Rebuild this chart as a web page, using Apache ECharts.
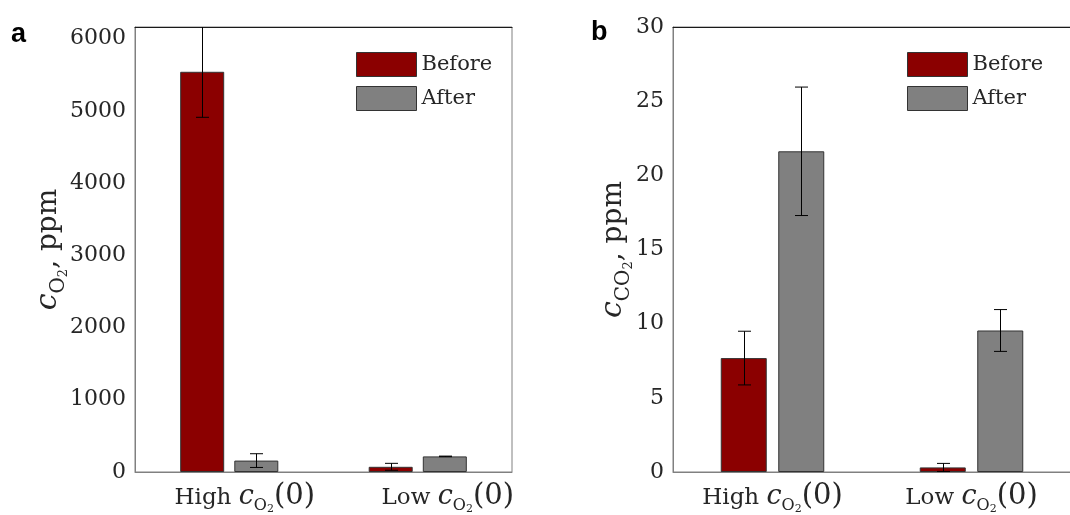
<!DOCTYPE html>
<html>
<head>
<meta charset="utf-8">
<script src="https://cdn.jsdelivr.net/npm/echarts@6/dist/echarts.min.js"></script>
<style>
  html, body { margin: 0; padding: 0; background: #ffffff; }
  #chart { width: 1070px; height: 515px; }
</style>
</head>
<body>
<div id="chart"></div>
<script>
// Categories and series names
const categories = ['High', 'Low'];
const seriesNames = ['Before', 'After'];

// Panel a: O2 concentration, ppm (mean and error half-width)
const o2Before = [5540, 72];
const o2BeforeErr = [630, 48];
const o2After = [158, 216];
const o2AfterErr = [95, 4];

// Panel b: CO2 concentration, ppm (mean and error half-width)
const co2Before = [7.68, 0.31];
const co2BeforeErr = [1.81, 0.27];
const co2After = [21.62, 9.54];
const co2AfterErr = [4.33, 1.41];

// Axis ranges
const o2AxisMax = 6160, o2AxisStep = 1000;
const co2AxisMax = 30, co2AxisStep = 5;

const COLORS = { Before: '#8b0000', After: '#808080' };
const EDGE = '#333333';
const TEXT = '#262626';
const SERIF = '"DejaVu Serif", serif';

// one rich-text piece: bottom-aligned, raised by its bottom padding
function piece(size, pad, italic) {
  return {
    fontFamily: SERIF, fontSize: size, fontStyle: italic ? 'italic' : 'normal',
    color: TEXT, lineHeight: size, padding: [0, 0, pad, 0], verticalAlign: 'bottom'
  };
}

// category labels: text, italic c, subscript O with its own subscript 2, then (0)
const xRich = {
  t: piece(23, 10, false),
  c: piece(27, 9.2, true),
  s: piece(16, 6.2, false),
  ss: piece(11, 5.1, false),
  p: piece(29, 8.9, false),
  g1: { width: 31, lineHeight: 20 },
  g2: { width: 60, lineHeight: 20 }
};

// axis titles: italic c with stacked subscripts, then ", ppm"
const yRich = {
  t: piece(28, 10, false),
  c: piece(30, 9.6, true),
  s: piece(20, 4.4, false),
  ss: piece(13, 2.7, false)
};

function catLabel(name, gap) {
  return (gap ? '{' + gap + '|}' : '') + '{t|' + name + ' }{c|c}{s|O}{ss|2}{p|(0)}';
}

function yAxisCfg(gridIndex, max, step, nameText, nameGap) {
  return {
    type: 'value', gridIndex: gridIndex, min: 0, max: max, interval: step,
    name: nameText, nameLocation: 'middle', nameRotate: 90, nameGap: nameGap,
    nameMoveOverlap: false,
    nameTextStyle: { rich: yRich },
    axisLine: { show: true, lineStyle: { color: '#808080', width: 1 } },
    axisTick: { show: false },
    splitLine: { show: false },
    axisLabel: {
      fontFamily: SERIF, fontSize: 22, color: TEXT, margin: 9,
      formatter: function (v) { return String(v); }
    }
  };
}

function xAxisCfg(gridIndex, gaps) {
  return {
    type: 'category', gridIndex: gridIndex, data: categories,
    axisLine: { show: true, lineStyle: { color: '#808080', width: 1 } },
    axisTick: { show: false },
    axisLabel: {
      margin: 19, interval: 0,
      formatter: function (v, i) { return catLabel(v, gaps[i]); },
      rich: xRich
    }
  };
}

function topEdge(gridIndex) {
  return {
    type: 'category', gridIndex: gridIndex, position: 'top', data: categories,
    axisLine: { show: true, lineStyle: { color: '#1a1a1a', width: 1 } },
    axisTick: { show: false }, axisLabel: { show: false }, splitLine: { show: false }
  };
}

function barSeries(name, values, axisIndex, barWidth, barGap) {
  return {
    type: 'bar', name: name, xAxisIndex: axisIndex * 2, yAxisIndex: axisIndex,
    data: values, barWidth: barWidth, barGap: barGap,
    itemStyle: { color: COLORS[name], borderColor: EDGE, borderWidth: 1 },
    emphasis: { disabled: true }, silent: true
  };
}

function errorSeries(name, values, errs, axisIndex, side, barWidth, barGapFrac) {
  return {
    type: 'custom', name: name + ' error', xAxisIndex: axisIndex * 2, yAxisIndex: axisIndex,
    clip: true, z: 5, silent: true,
    data: values.map(function (v, i) { return [i, v - errs[i], v + errs[i]]; }),
    encode: { x: 0, y: [1, 2] },
    renderItem: function (params, api) {
      const hi = api.coord([api.value(0), api.value(2)]);
      const lo = api.coord([api.value(0), api.value(1)]);
      const x = Math.round(hi[0] + side * barWidth * (1 + barGapFrac) / 2) + 0.5;
      const cap = 6.5;
      const st = { stroke: '#000000', lineWidth: 1 };
      return {
        type: 'group',
        children: [
          { type: 'line', shape: { x1: x, y1: hi[1], x2: x, y2: lo[1] }, style: st },
          { type: 'line', shape: { x1: x - cap, y1: hi[1], x2: x + cap, y2: hi[1] }, style: st },
          { type: 'line', shape: { x1: x - cap, y1: lo[1], x2: x + cap, y2: lo[1] }, style: st }
        ]
      };
    }
  };
}

function legendCfg(left) {
  return {
    left: left, top: 52, orient: 'vertical', padding: 0,
    itemWidth: 60, itemHeight: 24, itemGap: 9, icon: 'rect',
    selectedMode: false,
    data: seriesNames.map(function (n) {
      return { name: n, itemStyle: { color: COLORS[n], borderColor: EDGE, borderWidth: 1 } };
    }),
    textStyle: { fontFamily: SERIF, fontSize: 21, color: TEXT }
  };
}

const chart = echarts.init(document.getElementById('chart'), null, { renderer: 'canvas' });

const BW_A = 44, GAP_A = 0.23;
const BW_B = 46, GAP_B = 0.25;

chart.setOption({
  animation: false,
  backgroundColor: '#ffffff',
  grid: [
    { left: 135, top: 27, width: 377, height: 445, outerBoundsMode: 'none', containLabel: false,
      show: true, borderColor: '#808080', borderWidth: 1 },
    { left: 673, top: 27, width: 398, height: 445, outerBoundsMode: 'none', containLabel: false,
      show: true, borderColor: '#808080', borderWidth: 1 }
  ],
  xAxis: [xAxisCfg(0, ['g1', 'g2']), topEdge(0), xAxisCfg(1, [null, null]), topEdge(1)],
  yAxis: [
    yAxisCfg(0, o2AxisMax, o2AxisStep, '{c|c}{s|O}{ss|2}{t|, ppm}', 62),
    yAxisCfg(1, co2AxisMax, co2AxisStep, '{c|c}{s|CO}{ss|2}{t|, ppm}', 35)
  ],
  legend: [legendCfg(356), legendCfg(907)],
  graphic: [
    { type: 'text', left: 11, top: 21, style: { text: 'a', font: 'bold 27px "Liberation Sans", Arial, sans-serif', fill: '#000' } },
    { type: 'text', left: 591, top: 19, style: { text: 'b', font: 'bold 27px "Liberation Sans", Arial, sans-serif', fill: '#000' } }
  ],
  series: [
    barSeries('Before', o2Before, 0, BW_A, '23%'),
    barSeries('After', o2After, 0, BW_A, '23%'),
    errorSeries('Before', o2Before, o2BeforeErr, 0, -1, BW_A, GAP_A),
    errorSeries('After', o2After, o2AfterErr, 0, 1, BW_A, GAP_A),
    barSeries('Before', co2Before, 1, BW_B, '25%'),
    barSeries('After', co2After, 1, BW_B, '25%'),
    errorSeries('Before', co2Before, co2BeforeErr, 1, -1, BW_B, GAP_B),
    errorSeries('After', co2After, co2AfterErr, 1, 1, BW_B, GAP_B)
  ]
});
</script>
</body>
</html>
